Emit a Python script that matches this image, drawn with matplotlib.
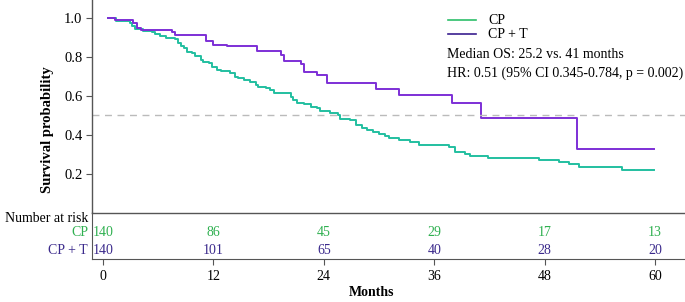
import matplotlib
matplotlib.use("Agg")
import matplotlib.pyplot as plt

plt.rcParams["font.family"] = ["Liberation Serif", "DejaVu Serif"]
plt.rcParams["font.size"] = 10

# Kaplan-Meier steps (months, survival after step)
cp_t = [0.5, 1.4, 2.9, 3.1, 3.5, 4.4, 5.3, 5.7, 6.2, 6.8, 7.8, 8.1, 8.5, 8.8, 9.1,
        9.7, 10.0, 10.6, 10.9, 11.5, 11.8, 12.4, 12.8, 13.8, 14.4, 14.7, 15.3, 16.0,
        16.6, 16.9, 17.7, 18.2, 18.6, 20.4, 20.7, 21.1, 21.8, 22.6, 23.3, 23.6, 24.7,
        25.5, 25.8, 26.9, 27.5, 28.2, 28.7, 29.3, 30.0, 30.7, 31.1, 32.2, 33.4, 34.4,
        37.6, 38.3, 39.3, 39.9, 41.8, 47.4, 49.6, 50.7, 51.7, 56.4, 59.9]
cp_s = [1.0, 0.985, 0.973, 0.96, 0.943, 0.935, 0.926, 0.916, 0.907, 0.899, 0.89, 0.873,
        0.856, 0.844, 0.827, 0.818, 0.805, 0.784, 0.775, 0.767, 0.75, 0.733, 0.727, 0.718,
        0.698, 0.693, 0.681, 0.673, 0.656, 0.647, 0.638, 0.63, 0.616, 0.595, 0.578, 0.565,
        0.556, 0.544, 0.535, 0.523, 0.51, 0.501, 0.481, 0.476, 0.45, 0.433, 0.424, 0.415,
        0.402, 0.393, 0.381, 0.373, 0.361, 0.347, 0.338, 0.313, 0.301, 0.292, 0.282,
        0.27, 0.261, 0.249, 0.232, 0.219, 0.219]

cpt_t = [0.5, 1.3, 3.3, 3.7, 4.1, 7.5, 7.8, 11.2, 12.0, 13.5, 16.7, 19.4, 19.7, 21.5,
         21.9, 23.3, 24.3, 29.7, 32.2, 37.9, 41.1, 51.5, 59.9]
cpt_s = [1.0, 0.99, 0.975, 0.95, 0.938, 0.93, 0.915, 0.883, 0.861, 0.856, 0.83, 0.81,
         0.78, 0.762, 0.724, 0.705, 0.664, 0.635, 0.604, 0.561, 0.487, 0.326, 0.326]

risk_times = [0, 12, 24, 36, 48, 60]
risk_cp = [140, 86, 45, 29, 17, 13]
risk_cpt = [140, 101, 65, 40, 28, 20]

green = "#22bfa0"
purple = "#7d2fd6"
green_txt = "#2fb050"
purple_txt = "#3b2a8c"
spine_col = "#555555"
fs = 10

W, H = 685, 302
fig = plt.figure(figsize=(W / 100, H / 100), dpi=100)

x0, x1 = 92 / W, 1.0
tab = fig.add_axes([x0, 1 - 259 / H, x1 - x0, 47 / H])
ax = fig.add_axes([x0, 1 - 212.5 / H, x1 - x0, 212.5 / H], sharex=tab)
tab.patch.set_visible(False)
ax.patch.set_visible(False)

xmin = -11 / 9.2
xmax = (685 - 103) / 9.2

ax.step(cp_t, cp_s, where="post", color=green, lw=1.4)
ax.step(cpt_t, cpt_s, where="post", color=purple, lw=1.4)
ax.axhline(0.5, color="#bbbbbb", lw=1, ls=(0, (5, 4)))
ax.set_xlim(xmin, xmax)
ax.set_ylim(0, 1.093)
ax.set_yticks([0.2, 0.4, 0.6, 0.8, 1.0])
ax.set_yticklabels(["0.2", "0.4", "0.6", "0.8", "1.0"], fontsize=fs + 0.5)
ax.tick_params(axis="y", length=4, width=0.8, color=spine_col, pad=3)
ax.tick_params(axis="x", bottom=False, labelbottom=False)
for side in ["top", "right"]:
    ax.spines[side].set_visible(False)
for side in ["left", "bottom"]:
    ax.spines[side].set_color(spine_col)
    ax.spines[side].set_linewidth(1)

# legend and annotation
fig.lines.append(plt.Line2D([448 / W, 476 / W], [1 - 20 / H, 1 - 20 / H], color="#2cbf6a", lw=1.2, transform=fig.transFigure))
fig.lines.append(plt.Line2D([448 / W, 476 / W], [1 - 34 / H, 1 - 34 / H], color="#3a1f8f", lw=1.2, transform=fig.transFigure))
fig.text(488 / W, 1 - 20 / H, "CP", va="center", ha="left", fontsize=fs)
fig.text(488 / W, 1 - 34 / H, "CP + T", va="center", ha="left", fontsize=fs)
fig.text(447 / W, 1 - 55 / H, "Median OS: 25.2 vs. 41 months", va="center", ha="left", fontsize=fs)
fig.text(447 / W, 1 - 73 / H, "HR: 0.51 (95% CI 0.345-0.784, p = 0.002)", va="center", ha="left", fontsize=fs)

fig.text(47 / W, 1 - 130 / H, "Survival probability", rotation=90, va="center", ha="center",
         fontsize=fs + 0.5, fontweight="bold")

# risk table
tab.set_ylim(0, 1)
for t, a, b in zip(risk_times, risk_cp, risk_cpt):
    tab.text(t, 26 / 47, str(a), ha="center", va="center", color=green_txt, fontsize=fs)
    tab.text(t, 9 / 47, str(b), ha="center", va="center", color=purple_txt, fontsize=fs)
tab.set_yticks([])
tab.set_xticks(risk_times)
tab.set_xticklabels([str(t) for t in risk_times], fontsize=fs)
tab.tick_params(axis="x", length=4, width=0.8, color=spine_col, pad=4)
for side in ["top", "right"]:
    tab.spines[side].set_visible(False)
for side in ["left", "bottom"]:
    tab.spines[side].set_color(spine_col)

fig.text(88 / W, 1 - 219 / H, "Number at risk", ha="right", va="center", fontsize=fs)
fig.text(88 / W, 1 - 233 / H, "CP", ha="right", va="center", fontsize=fs, color=green_txt)
fig.text(88 / W, 1 - 250 / H, "CP + T", ha="right", va="center", fontsize=fs, color=purple_txt)

fig.text(372 / W, 1 - 292 / H, "Months", ha="center", va="center", fontsize=fs, fontweight="bold")

fig.savefig("out.png", dpi=100)
